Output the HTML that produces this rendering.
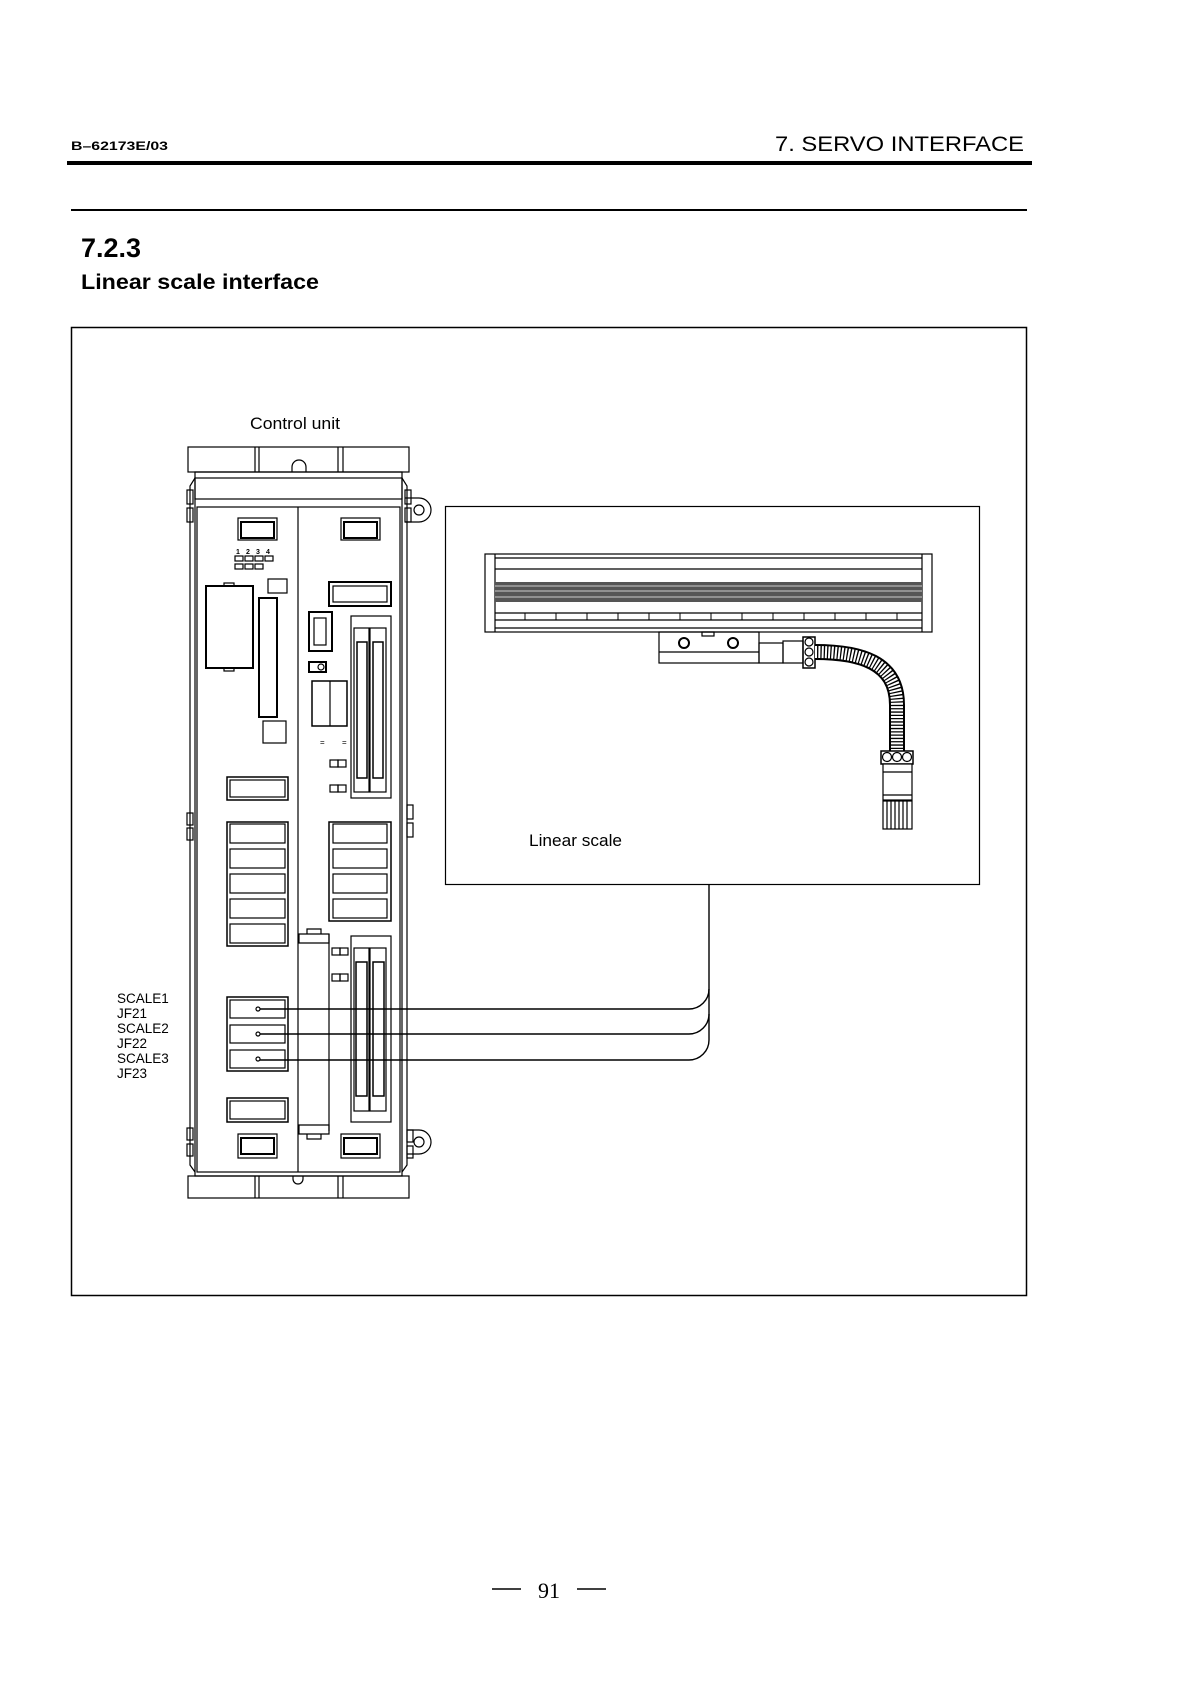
<!DOCTYPE html>
<html><head><meta charset="utf-8"><style>html,body{margin:0;padding:0;background:#fff}svg{display:block}</style></head>
<body>
<svg width="1191" height="1682" viewBox="0 0 1191 1682" xmlns="http://www.w3.org/2000/svg" font-family="Liberation Sans, sans-serif">
<rect width="1191" height="1682" fill="#fff"/>
<text x="71" y="150" font-size="12" font-weight="bold" textLength="97" lengthAdjust="spacingAndGlyphs">B–62173E/03</text>
<text x="775" y="151" font-size="21" textLength="249" lengthAdjust="spacingAndGlyphs">7. SERVO INTERFACE</text>
<rect x="67" y="161" width="965" height="4" fill="#000"/>
<rect x="71" y="209" width="956" height="2" fill="#000"/>
<text x="81" y="257" font-size="27" font-weight="bold" textLength="60" lengthAdjust="spacingAndGlyphs">7.2.3</text>
<text x="81" y="289" font-size="21" font-weight="bold" textLength="238" lengthAdjust="spacingAndGlyphs">Linear scale interface</text>
<rect x="71.5" y="327.5" width="955" height="968" fill="none" stroke="#000" stroke-width="1.5"/>
<text x="250" y="429" font-size="17" textLength="90" lengthAdjust="spacingAndGlyphs">Control unit</text>

<g fill="none" stroke="#000" stroke-width="1.2">
<rect x="188" y="447" width="221" height="25"/>
<line x1="255" y1="447" x2="255" y2="472"/><line x1="259" y1="447" x2="259" y2="472"/>
<line x1="338" y1="447" x2="338" y2="472"/><line x1="343" y1="447" x2="343" y2="472"/>
<path d="M292 472 v-5 a7 7 0 0 1 14 0 v5"/>
<path d="M195 472 H402 V1176 H195 Z"/>
<path d="M195 478 L190 486 V1165 L195 1172"/>
<path d="M402 478 L407 486 V1165 L402 1172"/>
<rect x="195" y="478" width="207" height="21"/>
<rect x="197" y="507" width="203" height="665"/>
<line x1="298" y1="507" x2="298" y2="1172"/>
<rect x="187" y="490" width="6" height="14"/><rect x="187" y="508" width="6" height="14"/>
<rect x="187" y="813" width="6" height="12"/><rect x="187" y="828" width="6" height="12"/>
<rect x="187" y="1128" width="6" height="12"/><rect x="187" y="1144" width="6" height="12"/>
<rect x="405" y="490" width="6" height="14"/><rect x="405" y="508" width="6" height="14"/>
<rect x="407" y="805" width="6" height="14"/><rect x="407" y="823" width="6" height="14"/>
<rect x="407" y="1130" width="6" height="12"/><rect x="407" y="1146" width="6" height="12"/>
<path d="M405 498 h14 a12 12 0 0 1 0 24 h-14"/><circle cx="419" cy="510" r="5"/>
<path d="M407 1130 h12 a12 12 0 0 1 0 24 h-12"/><circle cx="419" cy="1142" r="5"/>
<rect x="188" y="1176" width="221" height="22"/>
<line x1="255" y1="1176" x2="255" y2="1198"/><line x1="259" y1="1176" x2="259" y2="1198"/>
<line x1="338" y1="1176" x2="338" y2="1198"/><line x1="343" y1="1176" x2="343" y2="1198"/>
<path d="M293 1176 v3 a5 5 0 0 0 10 0 v-3"/>
<rect x="238" y="518" width="39" height="22"/><rect x="241" y="522" width="33" height="16" stroke-width="2"/>
<rect x="341" y="518" width="39" height="22"/><rect x="344" y="522" width="33" height="16" stroke-width="2"/>
<rect x="235" y="556" width="8" height="5"/><rect x="245" y="556" width="8" height="5"/><rect x="255" y="556" width="8" height="5"/><rect x="265" y="556" width="8" height="5"/>
<rect x="235" y="564" width="8" height="5"/><rect x="245" y="564" width="8" height="5"/><rect x="255" y="564" width="8" height="5"/>
<rect x="268" y="579" width="19" height="14"/>
<rect x="206" y="586" width="47" height="82" stroke-width="2"/>
<rect x="224" y="583" width="10" height="3"/><rect x="224" y="668" width="10" height="3"/>
<rect x="259" y="598" width="18" height="119" stroke-width="2"/>
<rect x="263" y="721" width="23" height="22"/>
<rect x="329" y="582" width="62" height="24" stroke-width="2"/><rect x="333" y="586" width="54" height="16"/>
<rect x="309" y="612" width="23" height="39" stroke-width="2"/><rect x="314" y="618" width="12" height="27"/>
<rect x="309" y="662" width="17" height="10" stroke-width="2"/><circle cx="321" cy="667" r="3"/>
<rect x="312" y="681" width="35" height="45" stroke-width="1.5"/><line x1="330" y1="681" x2="330" y2="726"/>
<text x="320" y="745" font-size="8" stroke="none" fill="#000">=</text><text x="342" y="745" font-size="8" stroke="none" fill="#000">=</text>
<rect x="330" y="760" width="8" height="7"/><rect x="338" y="760" width="8" height="7"/>
<rect x="330" y="785" width="8" height="7"/><rect x="338" y="785" width="8" height="7"/>
<rect x="351" y="616" width="40" height="182"/>
<rect x="354" y="628" width="15" height="164"/><rect x="370" y="628" width="16" height="164"/>
<rect x="357" y="642" width="10" height="136" stroke-width="1.5"/><rect x="373" y="642" width="10" height="136" stroke-width="1.5"/>
<rect x="227" y="777" width="61" height="23" stroke-width="1.5"/><rect x="230" y="780" width="55" height="17"/>
<rect x="227" y="822" width="61" height="124" stroke-width="1.5"/>
<rect x="230" y="824" width="55" height="19"/><rect x="230" y="849" width="55" height="19"/><rect x="230" y="874" width="55" height="19"/><rect x="230" y="899" width="55" height="19"/><rect x="230" y="924" width="55" height="19"/>
<rect x="329" y="822" width="62" height="99" stroke-width="1.5"/>
<rect x="333" y="824" width="54" height="19"/><rect x="333" y="849" width="54" height="19"/><rect x="333" y="874" width="54" height="19"/><rect x="333" y="899" width="54" height="19"/>
<path d="M299 934 h30 v9 h-30 z M307 934 v-5 h14 v5"/>
<path d="M299 1125 h30 v9 h-30 z M307 1134 v5 h14 v-5"/>
<line x1="329" y1="934" x2="329" y2="1131"/>
<rect x="332" y="948" width="8" height="7"/><rect x="340" y="948" width="8" height="7"/>
<rect x="332" y="974" width="8" height="7"/><rect x="340" y="974" width="8" height="7"/>
<rect x="351" y="936" width="40" height="186"/>
<rect x="354" y="948" width="15" height="163"/><rect x="370" y="948" width="16" height="163"/>
<rect x="356" y="962" width="11" height="134" stroke-width="1.5"/><rect x="373" y="962" width="11" height="134" stroke-width="1.5"/>
<rect x="227" y="997" width="61" height="74" stroke-width="1.5"/>
<rect x="230" y="1000" width="55" height="18"/><rect x="230" y="1025" width="55" height="18"/><rect x="230" y="1050" width="55" height="18"/>
<circle cx="258" cy="1009" r="2"/><circle cx="258" cy="1034" r="2"/><circle cx="258" cy="1059" r="2"/>
<rect x="227" y="1098" width="61" height="24" stroke-width="1.5"/><rect x="230" y="1101" width="55" height="18"/>
<rect x="238" y="1134" width="39" height="24"/><rect x="241" y="1138" width="33" height="16" stroke-width="2"/>
<rect x="341" y="1134" width="39" height="24"/><rect x="344" y="1138" width="33" height="16" stroke-width="2"/>
</g>
<g font-size="7" font-weight="bold"><text x="236" y="554">1</text><text x="246" y="554">2</text><text x="256" y="554">3</text><text x="266" y="554">4</text></g>
<g stroke="#000" stroke-width="1.4" fill="none">
<path d="M260 1009 H689 a20 20 0 0 0 20 -20"/>
<path d="M260 1034 H689 a20 20 0 0 0 20 -20"/>
<path d="M260 1060 H689 a20 20 0 0 0 20 -20 V885"/>
</g>
<g font-size="13.5" fill="#000">
<text x="117" y="1003">SCALE1</text><text x="117" y="1018">JF21</text>
<text x="117" y="1033">SCALE2</text><text x="117" y="1048">JF22</text>
<text x="117" y="1063">SCALE3</text><text x="117" y="1078">JF23</text>
</g>
<rect x="445.5" y="506.5" width="534" height="378" fill="#fff" stroke="#000" stroke-width="1.2"/>
<g fill="none" stroke="#000" stroke-width="1.2">
<rect x="485" y="554" width="447" height="78"/>
<line x1="495" y1="554" x2="495" y2="632"/><line x1="922" y1="554" x2="922" y2="632"/>
<line x1="495" y1="558" x2="922" y2="558"/><line x1="495" y1="569" x2="922" y2="569"/>
<line x1="495" y1="613" x2="922" y2="613"/><line x1="495" y1="620" x2="922" y2="620"/><line x1="495" y1="628" x2="922" y2="628"/>
</g>
<rect x="495" y="582" width="427" height="20" fill="#555"/>
<g stroke="#ccc" stroke-width="1"><line x1="495" y1="586" x2="922" y2="586"/><line x1="495" y1="591" x2="922" y2="591"/><line x1="495" y1="597" x2="922" y2="597"/></g>
<g stroke="#000" stroke-width="1">
<line x1="525" y1="613" x2="525" y2="620"/><line x1="556" y1="613" x2="556" y2="620"/><line x1="587" y1="613" x2="587" y2="620"/><line x1="618" y1="613" x2="618" y2="620"/><line x1="649" y1="613" x2="649" y2="620"/><line x1="680" y1="613" x2="680" y2="620"/><line x1="711" y1="613" x2="711" y2="620"/><line x1="742" y1="613" x2="742" y2="620"/><line x1="773" y1="613" x2="773" y2="620"/><line x1="804" y1="613" x2="804" y2="620"/><line x1="835" y1="613" x2="835" y2="620"/><line x1="866" y1="613" x2="866" y2="620"/><line x1="897" y1="613" x2="897" y2="620"/>
</g>
<g fill="none" stroke="#000" stroke-width="1.2">
<rect x="659" y="632" width="100" height="31"/><line x1="659" y1="652" x2="759" y2="652"/>
<rect x="702" y="632" width="12" height="4"/>
<circle cx="684" cy="643" r="5" stroke-width="2"/><circle cx="733" cy="643" r="5" stroke-width="2"/>
<rect x="759" y="643" width="24" height="20"/><rect x="783" y="641" width="20" height="22"/>
<rect x="803" y="637" width="12" height="31" stroke-width="1.5"/>
<circle cx="809" cy="642" r="4"/><circle cx="809" cy="652" r="4"/><circle cx="809" cy="662" r="4"/>
</g>
<path d="M815 652 C860 652 897 662 897 705 V751" fill="none" stroke="#000" stroke-width="16"/>
<path d="M815 652 C860 652 897 662 897 705 V751" fill="none" stroke="#fff" stroke-width="12" stroke-dasharray="2 1.3"/>
<g fill="#fff" stroke="#000" stroke-width="1.2">
<rect x="881" y="751" width="32" height="13" stroke-width="1.5"/>
<circle cx="887" cy="757" r="4.5"/><circle cx="897" cy="757" r="4.5"/><circle cx="907" cy="757" r="4.5"/>
<rect x="883" y="764" width="29" height="36"/><line x1="883" y1="772" x2="912" y2="772"/><line x1="883" y1="795" x2="912" y2="795"/>
<rect x="883" y="801" width="29" height="28"/>
</g>
<g stroke="#000" stroke-width="1.2">
<line x1="887" y1="801" x2="887" y2="829"/><line x1="891" y1="801" x2="891" y2="829"/><line x1="895" y1="801" x2="895" y2="829"/><line x1="899" y1="801" x2="899" y2="829"/><line x1="903" y1="801" x2="903" y2="829"/><line x1="907" y1="801" x2="907" y2="829"/>
</g>
<text x="529" y="846" font-size="17" textLength="93" lengthAdjust="spacingAndGlyphs">Linear scale</text>
<line x1="492" y1="1589" x2="521" y2="1589" stroke="#000" stroke-width="1.5"/>
<line x1="577" y1="1589" x2="606" y2="1589" stroke="#000" stroke-width="1.5"/>
<text x="538" y="1598" font-size="22" font-family="Liberation Serif, serif">91</text>
</svg>
</body></html>
